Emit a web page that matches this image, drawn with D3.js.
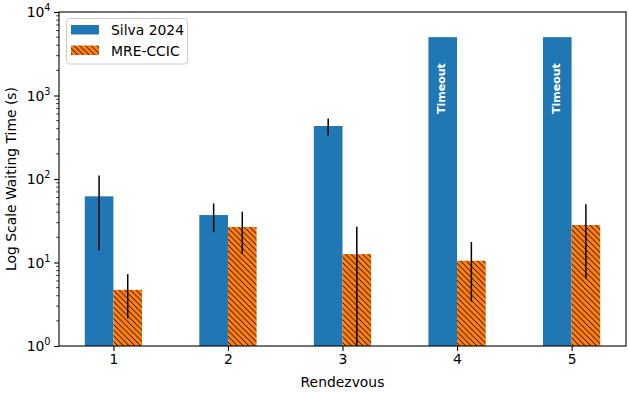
<!DOCTYPE html>
<html>
<head>
<meta charset="utf-8">
<script src="https://cdn.jsdelivr.net/npm/d3@7"></script>
<style>
  body { margin: 0; background: #fff; }
  text { font-family: "DejaVu Sans", sans-serif; }
</style>
</head>
<body>
<div id="chart"></div>
<script>
// Data
const categories = [1, 2, 3, 4, 5];
const silvaValues = [62, 37, 431, 5000, 5000];
const silvaErrors = [48, 14, 98, null, null];
const silvaTimeout = [false, false, false, true, true];
const mreValues = [4.7, 26.6, 12.6, 10.5, 28.1];
const mreErrors = [2.55, 14, 14.2, 7.1, 21.7];
const yTicks = [1, 10, 100, 1000, 10000];

const width = 629, height = 393;
const margin = {top: 12, right: 3, bottom: 47, left: 59};
const barWidth = 0.25;

const svg = d3.select('#chart').append('svg')
  .attr('width', width)
  .attr('height', height);

// hatch pattern for the second series
const defs = svg.append('defs');
const hs = 5.7;
const pat = defs.append('pattern')
  .attr('id', 'hatch')
  .attr('patternUnits', 'userSpaceOnUse')
  .attr('width', hs)
  .attr('height', hs);
pat.append('rect').attr('width', hs).attr('height', hs).attr('fill', '#ff7f0e');
pat.append('path')
  .attr('d', `M${-hs},0L${hs},${2 * hs}M0,${-hs}L${2 * hs},${hs}M${-hs},${-hs}L${2 * hs},${2 * hs}`)
  .attr('stroke', '#000')
  .attr('stroke-width', 1)
  .attr('shape-rendering', 'crispEdges');

defs.append('clipPath').attr('id', 'plotclip')
  .append('rect')
  .attr('x', margin.left).attr('y', margin.top)
  .attr('width', width - margin.left - margin.right)
  .attr('height', height - margin.top - margin.bottom);

const x = d3.scaleLinear()
  .domain([0.525, 5.475])
  .range([margin.left, width - margin.right]);

const y = d3.scaleLog()
  .domain([1, 10000])
  .range([height - margin.bottom, margin.top])
  .clamp(true);

const plot = svg.append('g').attr('clip-path', 'url(#plotclip)');

// Silva 2024 bars
plot.selectAll('rect.silva')
  .data(categories)
  .join('rect')
  .attr('class', 'silva')
  .attr('x', (d, i) => x(d - barWidth))
  .attr('y', (d, i) => y(silvaValues[i]))
  .attr('width', x(barWidth) - x(0))
  .attr('height', (d, i) => y(1) - y(silvaValues[i]))
  .attr('fill', '#1f77b4');

// MRE-CCIC bars
plot.selectAll('rect.mre')
  .data(categories)
  .join('rect')
  .attr('class', 'mre')
  .attr('x', d => x(d))
  .attr('y', (d, i) => y(mreValues[i]))
  .attr('width', x(barWidth) - x(0))
  .attr('height', (d, i) => y(1) - y(mreValues[i]))
  .attr('fill', 'url(#hatch)');

// error bars
const errLine = (val, err) => {
  const lo = val - err;
  return [y(val + err), lo > 0 ? y(lo) : y(1)];
};

plot.selectAll('line.silvaErr')
  .data(categories.filter((d, i) => silvaErrors[i] != null))
  .join('line')
  .attr('class', 'silvaErr')
  .attr('x1', d => x(d - barWidth / 2))
  .attr('x2', d => x(d - barWidth / 2))
  .attr('y1', d => errLine(silvaValues[d - 1], silvaErrors[d - 1])[0])
  .attr('y2', d => errLine(silvaValues[d - 1], silvaErrors[d - 1])[1])
  .attr('stroke', '#000')
  .attr('stroke-width', 1.5);

plot.selectAll('line.mreErr')
  .data(categories)
  .join('line')
  .attr('class', 'mreErr')
  .attr('x1', d => x(d + barWidth / 2))
  .attr('x2', d => x(d + barWidth / 2))
  .attr('y1', (d, i) => errLine(mreValues[i], mreErrors[i])[0])
  .attr('y2', (d, i) => errLine(mreValues[i], mreErrors[i])[1])
  .attr('stroke', '#000')
  .attr('stroke-width', 1.5);

// Timeout labels
svg.selectAll('text.timeout')
  .data(categories.filter((d, i) => silvaTimeout[i]))
  .join('text')
  .attr('class', 'timeout')
  .attr('transform', d => `translate(${x(d - barWidth / 2) - 1},${y(silvaValues[d - 1]) + 26}) rotate(-90)`)
  .attr('text-anchor', 'end')
  .attr('dominant-baseline', 'central')
  .attr('fill', '#fff')
  .attr('font-weight', 'bold')
  .attr('font-size', '11px')
  .text('Timeout');

// axes
const xAxis = d3.axisBottom(x)
  .tickValues(categories)
  .tickFormat(d3.format('d'))
  .tickSize(4.9)
  .tickPadding(3.5);

const xAxisG = svg.append('g')
  .attr('transform', `translate(0,${height - margin.bottom})`)
  .call(xAxis);

const yAxis = d3.axisLeft(y)
  .tickValues(yTicks)
  .tickFormat('')
  .tickSize(4.9);

const yAxisG = svg.append('g')
  .attr('transform', `translate(${margin.left},0)`)
  .call(yAxis);

// minor ticks on the log axis
const minor = [];
for (let p = 0; p < 4; p++) {
  for (let m = 2; m <= 9; m++) minor.push(m * Math.pow(10, p));
}
yAxisG.selectAll('line.minor')
  .data(minor)
  .join('line')
  .attr('class', 'minor')
  .attr('x1', 0).attr('x2', -2.8)
  .attr('y1', d => y(d)).attr('y2', d => y(d))
  .attr('stroke', '#000')
  .attr('stroke-width', 0.8);

// y tick labels 10^n
yAxisG.selectAll('text.ylab')
  .data(yTicks)
  .join('text')
  .attr('class', 'ylab')
  .attr('x', -8.5)
  .attr('y', d => y(d) + 5)
  .attr('text-anchor', 'end')
  .attr('font-size', '13.9px')
  .attr('fill', '#000')
  .call(t => {
    t.append('tspan').text('10');
    t.append('tspan')
      .attr('dy', -6)
      .attr('font-size', '9.7px')
      .text(d => Math.round(Math.log10(d)));
  });

[xAxisG, yAxisG].forEach(g => {
  g.select('.domain').remove();
  g.selectAll('.tick line').attr('stroke', '#000').attr('stroke-width', 1.1);
  g.selectAll('.tick text').attr('font-size', '13.9px').attr('fill', '#000')
    .attr('font-family', '"DejaVu Sans", sans-serif');
});

// frame
svg.append('rect')
  .attr('x', margin.left).attr('y', margin.top)
  .attr('width', width - margin.left - margin.right)
  .attr('height', height - margin.top - margin.bottom)
  .attr('fill', 'none')
  .attr('stroke', '#000')
  .attr('stroke-width', 1.1);

// axis titles
svg.append('text')
  .attr('x', x(3))
  .attr('y', 387)
  .attr('text-anchor', 'middle')
  .attr('font-size', '13.9px')
  .text('Rendezvous');

svg.append('text')
  .attr('transform', `translate(16,${(margin.top + height - margin.bottom) / 2}) rotate(-90)`)
  .attr('text-anchor', 'middle')
  .attr('font-size', '13.9px')
  .text('Log Scale Waiting Time (s)');

// legend
const legend = svg.append('g');
legend.append('rect')
  .attr('x', 66.5).attr('y', 18.5)
  .attr('width', 121).attr('height', 45.5)
  .attr('rx', 3)
  .attr('fill', '#fff').attr('fill-opacity', 0.8)
  .attr('stroke', '#ccc');

const legendItems = [
  {label: 'Silva 2024', fill: '#1f77b4'},
  {label: 'MRE-CCIC', fill: 'url(#hatch)'}
];
legend.selectAll('rect.key')
  .data(legendItems)
  .join('rect')
  .attr('class', 'key')
  .attr('x', 71).attr('y', (d, i) => 25 + i * 20.5)
  .attr('width', 28).attr('height', 9.5)
  .attr('fill', d => d.fill);
legend.selectAll('text.key')
  .data(legendItems)
  .join('text')
  .attr('class', 'key')
  .attr('x', 111).attr('y', (d, i) => 35 + i * 20.5)
  .attr('font-size', '13.9px')
  .text(d => d.label);
</script>
</body>
</html>
